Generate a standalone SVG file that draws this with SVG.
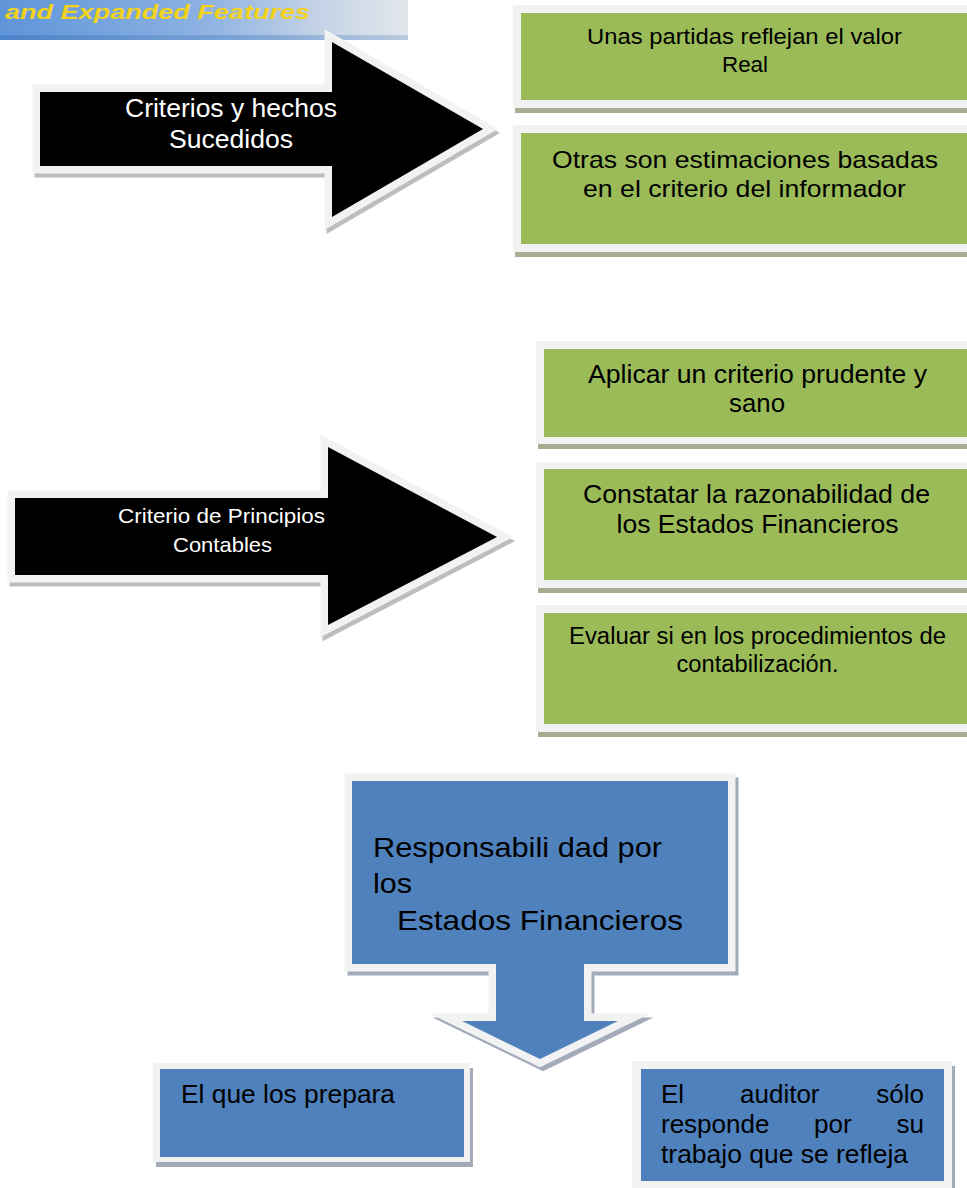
<svg xmlns="http://www.w3.org/2000/svg" width="967" height="1188" viewBox="0 0 967 1188">
<defs>
<linearGradient id="bannerGrad" x1="0" y1="0" x2="1" y2="0">
<stop offset="0" stop-color="#5f95da"/>
<stop offset="0.5" stop-color="#8db1e1"/>
<stop offset="0.78" stop-color="#c4d2e6"/>
<stop offset="1" stop-color="#e3e7ec"/>
</linearGradient>
<linearGradient id="bannerLine" x1="0" y1="0" x2="1" y2="0">
<stop offset="0" stop-color="#4a82c8"/>
<stop offset="0.6" stop-color="#7ca4d6"/>
<stop offset="1" stop-color="#b9c9de"/>
</linearGradient>
<style>
.t{font-family:"Liberation Sans",Arial,sans-serif}
.wht{fill:#ffffff}
.blk{fill:#000000}
.bord{fill:#f2f2f2;stroke:#f2f2f2;stroke-width:15;stroke-linejoin:miter;stroke-miterlimit:10}
.shd{fill:#bdbdbd;stroke:#bdbdbd;stroke-width:15;stroke-linejoin:miter;stroke-miterlimit:10}
.shdb{fill:#a3abbb;stroke:#a3abbb;stroke-width:15;stroke-linejoin:miter;stroke-miterlimit:10}
.gbord{fill:#f2f2f2}
.gshd{fill:#a6ad90}
.bshd{fill:#a3abbb}
.green{fill:#9bbb59}
.blue{fill:#4f81bd}
</style>
</defs>
<rect width="967" height="1188" fill="#ffffff"/>

<g id="banner">
<rect x="0" y="0" width="408" height="40" fill="url(#bannerGrad)"/>
<rect x="0" y="35" width="408" height="5" fill="url(#bannerLine)"/>
<text class="t" x="5" y="19" font-size="20" font-weight="bold" font-style="italic" fill="#f3d21c" textLength="305" lengthAdjust="spacingAndGlyphs">and Expanded Features</text>
</g>

<g id="arrow-criterios">
<polygon class="shd" transform="translate(2,4)" points="40,92 332,92 332,42 483,129 332,217 332,166 40,166"/>
<polygon class="bord" points="40,92 332,92 332,42 483,129 332,217 332,166 40,166"/>
<polygon class="blk" points="40,92 332,92 332,42 483,129 332,217 332,166 40,166"/>
<text class="t wht" x="231" y="117" font-size="26" text-anchor="middle" textLength="212" lengthAdjust="spacingAndGlyphs">Criterios y hechos</text>
<text class="t wht" x="231" y="148" font-size="26" text-anchor="middle" textLength="124" lengthAdjust="spacingAndGlyphs">Sucedidos</text>
</g>

<g id="box-unas">
<rect class="gshd" x="515" y="10" width="460" height="103"/>
<rect class="gbord" x="513" y="5" width="460" height="103"/>
<rect class="green" x="521" y="13" width="452" height="87"/>
<text class="t blk" x="744.5" y="44" font-size="21.5" text-anchor="middle" textLength="315" lengthAdjust="spacingAndGlyphs">Unas partidas reflejan el valor</text>
<text class="t blk" x="745" y="72" font-size="21.5" text-anchor="middle" textLength="46" lengthAdjust="spacingAndGlyphs">Real</text>
</g>

<g id="box-otras">
<rect class="gshd" x="515" y="130" width="460" height="127"/>
<rect class="gbord" x="513" y="125" width="460" height="127"/>
<rect class="green" x="521" y="133" width="452" height="111"/>
<text class="t blk" x="745" y="168" font-size="24" text-anchor="middle" textLength="386" lengthAdjust="spacingAndGlyphs">Otras son estimaciones basadas</text>
<text class="t blk" x="744.5" y="197" font-size="24" text-anchor="middle" textLength="323" lengthAdjust="spacingAndGlyphs">en el criterio del informador</text>
</g>

<g id="arrow-principios">
<polygon class="shd" transform="translate(2,4)" points="15,498 328,498 328,447 497,537 328,625 328,575 15,575"/>
<polygon class="bord" points="15,498 328,498 328,447 497,537 328,625 328,575 15,575"/>
<polygon class="blk" points="15,498 328,498 328,447 497,537 328,625 328,575 15,575"/>
<text class="t wht" x="221.5" y="523" font-size="21" text-anchor="middle" textLength="207" lengthAdjust="spacingAndGlyphs">Criterio de Principios</text>
<text class="t wht" x="222.5" y="552" font-size="21" text-anchor="middle" textLength="99" lengthAdjust="spacingAndGlyphs">Contables</text>
</g>

<g id="box-aplicar">
<rect class="gshd" x="538" y="346" width="440" height="103"/>
<rect class="gbord" x="536" y="341" width="440" height="103"/>
<rect class="green" x="544" y="349" width="432" height="88"/>
<text class="t blk" x="757.5" y="383" font-size="26" text-anchor="middle" textLength="339" lengthAdjust="spacingAndGlyphs">Aplicar un criterio prudente y</text>
<text class="t blk" x="757" y="412" font-size="26" text-anchor="middle" textLength="56" lengthAdjust="spacingAndGlyphs">sano</text>
</g>

<g id="box-constatar">
<rect class="gshd" x="538" y="467" width="440" height="126"/>
<rect class="gbord" x="536" y="462" width="440" height="126"/>
<rect class="green" x="544" y="469" width="432" height="111"/>
<text class="t blk" x="756.5" y="503" font-size="26" text-anchor="middle" textLength="347" lengthAdjust="spacingAndGlyphs">Constatar la razonabilidad de</text>
<text class="t blk" x="757.5" y="533" font-size="26" text-anchor="middle" textLength="282" lengthAdjust="spacingAndGlyphs">los Estados Financieros</text>
</g>

<g id="box-evaluar">
<rect class="gshd" x="538" y="610" width="440" height="127"/>
<rect class="gbord" x="536" y="605" width="440" height="127"/>
<rect class="green" x="544" y="613" width="432" height="111"/>
<text class="t blk" x="757.5" y="644" font-size="23" text-anchor="middle" textLength="377" lengthAdjust="spacingAndGlyphs">Evaluar si en los procedimientos de</text>
<text class="t blk" x="757.5" y="672" font-size="23" text-anchor="middle" textLength="162" lengthAdjust="spacingAndGlyphs">contabilización.</text>
</g>

<g id="callout-responsabilidad">
<polygon class="shdb" transform="translate(3,4)" points="352,781 728,781 728,964 584,964 584,1021 618,1021 540,1059 462,1021 496,1021 496,964 352,964"/>
<polygon class="bord" points="352,781 728,781 728,964 584,964 584,1021 618,1021 540,1059 462,1021 496,1021 496,964 352,964"/>
<polygon class="blue" points="352,781 728,781 728,964 584,964 584,1021 618,1021 540,1059 462,1021 496,1021 496,964 352,964"/>
<text class="t blk" x="373" y="857" font-size="28" textLength="289" lengthAdjust="spacingAndGlyphs">Responsabili dad por</text>
<text class="t blk" x="373" y="893" font-size="28" textLength="39" lengthAdjust="spacingAndGlyphs">los</text>
<text class="t blk" x="397" y="930" font-size="28" textLength="286" lengthAdjust="spacingAndGlyphs">Estados Financieros</text>
</g>

<g id="box-prepara">
<rect class="bshd" x="156" y="1068" width="317" height="99"/>
<rect class="gbord" x="153" y="1063" width="317" height="99"/>
<rect class="blue" x="160" y="1069" width="304" height="88"/>
<text class="t blk" x="181" y="1103" font-size="26" textLength="214" lengthAdjust="spacingAndGlyphs">El que los prepara</text>
</g>

<g id="box-auditor">
<rect class="bshd" x="635" y="1066" width="320" height="130"/>
<rect class="gbord" x="632" y="1061" width="320" height="130"/>
<rect class="blue" x="641" y="1069" width="303" height="112"/>
<text class="t blk" y="1103" font-size="26"><tspan x="661">El</tspan><tspan x="740">auditor</tspan><tspan x="924" text-anchor="end">sólo</tspan></text>
<text class="t blk" y="1133" font-size="26"><tspan x="661">responde</tspan><tspan x="814">por</tspan><tspan x="924" text-anchor="end">su</tspan></text>
<text class="t blk" x="661" y="1163" font-size="26" textLength="247" lengthAdjust="spacingAndGlyphs">trabajo que se refleja</text>
</g>

<g id="connectors"></g>
</svg>
